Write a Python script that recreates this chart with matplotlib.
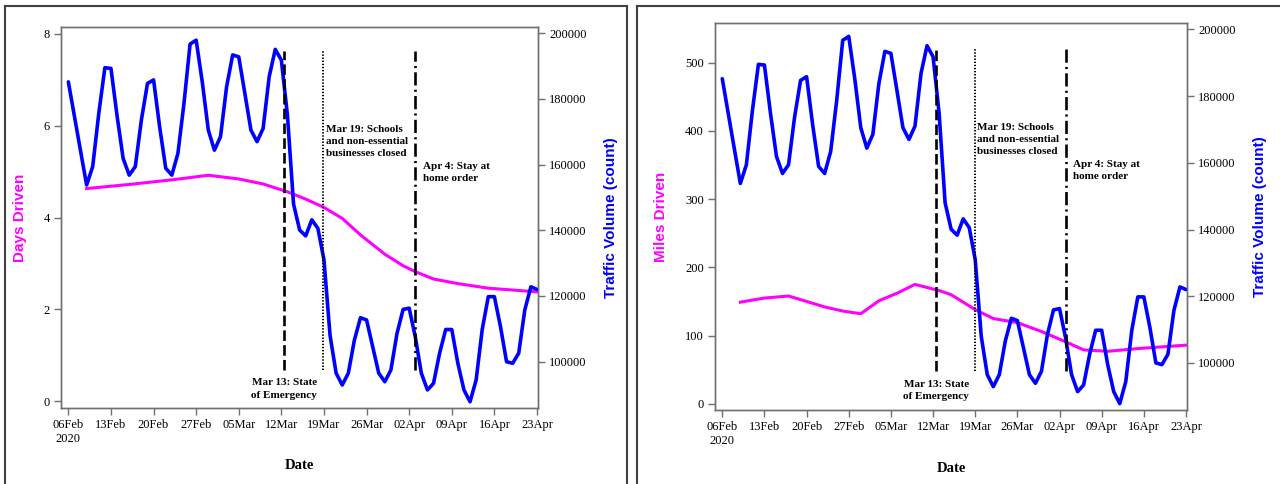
import pandas as pd
import matplotlib
matplotlib.use('Agg')
import matplotlib.pyplot as plt
from matplotlib.lines import Line2D

# daily traffic volume (count), 06Feb2020 - 23Apr2020
traffic_volume = [185200, 174700, 164200, 153800, 159400, 175600, 189500,
                  189300, 174900, 161900, 156800, 159400, 173600, 184700,
                  185800, 171500, 158900, 156800, 163400, 178700, 196700,
                  197900, 185200, 170500, 164400, 168500, 183700, 193400,
                  192800, 181700, 170500, 167000, 171000, 186800, 195100,
                  191800, 175000, 148000, 140100, 138300, 143200, 140600,
                  131000, 108000, 96500, 92900, 96500, 106600, 113400,
                  112700, 104600, 96500, 93900, 97500, 108600, 115900,
                  116300, 107600, 96500, 91400, 93400, 102600, 109800,
                  109800, 99500, 91400, 87800, 94400, 109800, 119800,
                  119800, 110700, 100000, 99500, 102600, 115800, 122800,
                  122000]
traffic_dates = pd.date_range('2020-02-06', periods=len(traffic_volume), freq='D')

# days driven (left panel)
days_dates = ['2020-02-09', '2020-02-16', '2020-02-23', '2020-02-29', '2020-03-05',
              '2020-03-09', '2020-03-13', '2020-03-16', '2020-03-19', '2020-03-22',
              '2020-03-25', '2020-03-29', '2020-04-01', '2020-04-03', '2020-04-06',
              '2020-04-10', '2020-04-15', '2020-04-19', '2020-04-23']
days_driven = [4.63, 4.72, 4.82, 4.92, 4.84, 4.73, 4.56, 4.40, 4.22, 3.98,
               3.62, 3.20, 2.95, 2.82, 2.66, 2.56, 2.46, 2.42, 2.38]

# miles driven (right panel)
miles_dates = ['2020-02-09', '2020-02-13', '2020-02-17', '2020-02-23', '2020-02-26',
               '2020-02-29', '2020-03-03', '2020-03-06', '2020-03-09', '2020-03-13',
               '2020-03-15', '2020-03-19', '2020-03-22', '2020-03-26', '2020-03-30',
               '2020-04-03', '2020-04-06', '2020-04-10', '2020-04-15', '2020-04-23']
miles_driven = [149, 155, 158, 142, 136, 132, 151, 162, 175, 166,
                160, 138, 125, 119, 106, 91, 79, 77, 81, 86]

# events (line positions)
event_pos = ['2020-03-12 12:00', '2020-03-18 22:00', '2020-04-03 00:00']
event_text = ['Mar 13: State\nof Emergency',
              'Mar 19: Schools\nand non-essential\nbusinesses closed',
              'Apr 4: Stay at\nhome order']

tick_dates = pd.date_range('2020-02-06', periods=12, freq='7D')
tick_labels = ['06Feb\n2020', '13Feb', '20Feb', '27Feb', '05Mar', '12Mar',
               '19Mar', '26Mar', '02Apr', '09Apr', '16Apr', '23Apr']

serif = 'Liberation Serif'
sans = 'Liberation Sans'
spine_col = '#707070'


def style_axis(ax):
    for s in ax.spines.values():
        s.set_color(spine_col)
        s.set_linewidth(1.0)
    ax.tick_params(colors=spine_col, length=5, width=1.0, direction='out', pad=3)
    for lab in ax.get_xticklabels() + ax.get_yticklabels():
        lab.set_fontfamily(serif)
        lab.set_fontsize(9)
        lab.set_color('black')


def draw_panel(ax, dates, values, ylabel, yticks, ylim, ylab_x, ylab2_x):
    t0 = pd.Timestamp('2020-02-06')
    ax.plot(pd.to_datetime(dates), values, color='#ff00ff', lw=2.2, solid_joinstyle='round')
    ax.set_ylim(ylim)
    ax.set_yticks(yticks)
    ax.set_xlim(t0 - pd.Timedelta(hours=29), t0 + pd.Timedelta(days=77, hours=4))
    ax.set_xticks(tick_dates)
    ax.set_xticklabels(tick_labels, linespacing=1.25)
    ax.set_xlabel('Date', fontfamily=serif, fontweight='bold', fontsize=10.5)
    ax.xaxis.set_label_coords(0.5, -0.135)
    ax.set_ylabel(ylabel, color='#ff00ff', fontfamily=sans, fontweight='bold', fontsize=11)
    ax.yaxis.set_label_coords(ylab_x, 0.5)

    ax2 = ax.twinx()
    ax2.plot(traffic_dates, traffic_volume, color='#0000ff', lw=2.6,
             solid_joinstyle='round', solid_capstyle='round')
    ax2.set_ylim(85900, 201900)
    ax2.set_yticks(range(100000, 200001, 20000))
    ax2.set_ylabel('Traffic Volume (count)', color='#0000ff', fontfamily=sans,
                   fontweight='bold', fontsize=11)
    ax2.yaxis.set_label_coords(ylab2_x, 0.5)

    ev = pd.to_datetime(event_pos)
    styles = [(0, (4, 1.6)), (0, (0.7, 0.9)), (0, (5, 1.6, 0.8, 1.6))]
    widths = [1.9, 1.4, 1.9]
    for x, ls, lw in zip(ev, styles, widths):
        ax2.plot([x, x], [97500, 194500], color='black', lw=lw, linestyle=ls, zorder=5)

    tkw = dict(fontfamily=serif, fontweight='bold', fontsize=8, linespacing=1.45,
               va='center', zorder=6)
    ax2.text(ev[0], 91700, event_text[0], ha='center', **tkw)
    ax2.text(ev[1] + pd.Timedelta(hours=10), 167000, event_text[1], ha='left', **tkw)
    ax2.text(ev[2] + pd.Timedelta(hours=30), 157700, event_text[2], ha='left', **tkw)

    style_axis(ax)
    style_axis(ax2)


fig = plt.figure(figsize=(12.8, 4.84), dpi=100)
ax_l = fig.add_axes([61 / 1280, 1 - 408 / 484, 477 / 1280, 381 / 484])
ax_r = fig.add_axes([715 / 1280, 1 - 410 / 484, 472 / 1280, 387 / 484])

draw_panel(ax_l, days_dates, days_driven, 'Days Driven', [0, 2, 4, 6, 8],
           (-0.15, 8.15), -0.072, 1.138)
draw_panel(ax_r, miles_dates, miles_driven, 'Miles Driven', range(0, 501, 100),
           (-9, 558), -0.1, 1.139)

# panel frames
bc = '#404040'
W, H = 1280, 484
top = 1 - 6 / H
for xs, ys in [([5 / W, 5 / W], [0, top]), ([5 / W, 627 / W], [top, top]),
               ([627 / W, 627 / W], [0, top]), ([637 / W, 637 / W], [0, top]),
               ([637 / W, 1], [top, top])]:
    fig.add_artist(Line2D(xs, ys, transform=fig.transFigure, color=bc, lw=1.5))

fig.savefig('out.png', dpi=100)
